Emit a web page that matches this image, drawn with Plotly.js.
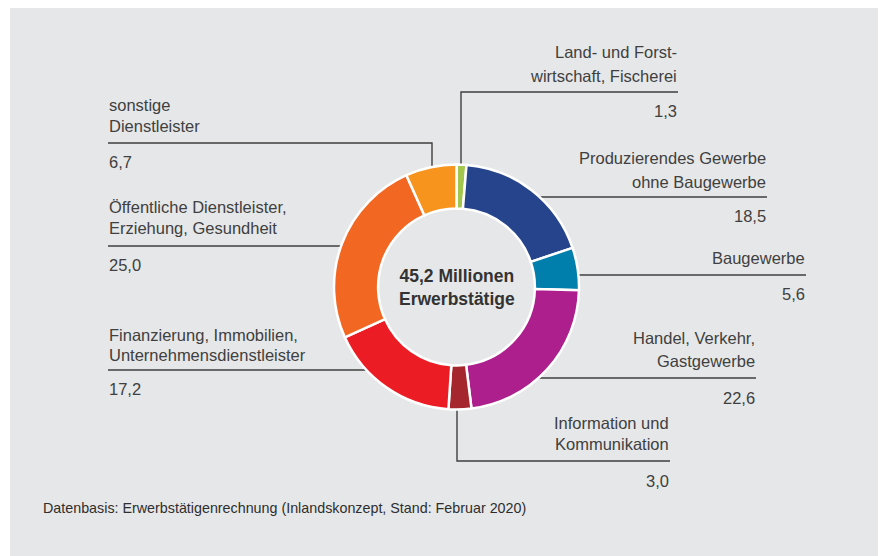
<!DOCTYPE html>
<html>
<head>
<meta charset="utf-8">
<script src="https://cdn.plot.ly/plotly-3.0.1.min.js"></script>
<style>
  html, body { margin: 0; padding: 0; background: #ffffff; }
  #chart { width: 883px; height: 556px; }
</style>
</head>
<body>
<div id="chart"></div>
<script>
// ---- data ----
const categories = [
  "Land- und Forst-<br>wirtschaft, Fischerei",
  "Produzierendes Gewerbe<br>ohne Baugewerbe",
  "Baugewerbe",
  "Handel, Verkehr,<br>Gastgewerbe",
  "Information und<br>Kommunikation",
  "Finanzierung, Immobilien,<br>Unternehmensdienstleister",
  "Öffentliche Dienstleister,<br>Erziehung, Gesundheit",
  "sonstige<br>Dienstleister"
];
const values = [1.3, 18.5, 5.6, 22.6, 3.0, 17.2, 25.0, 6.7];
const colors = ["#a3c74e", "#26448c", "#007fad", "#ad1f8d", "#a5262d", "#ec1c24", "#f26722", "#f7941d"];
const centerText = "45,2 Millionen<br>Erwerbstätige";
const footnote = "Datenbasis: Erwerbstätigenrechnung (Inlandskonzept, Stand: Februar 2020)";

// ---- layout helpers (pixel -> paper) ----
const W = 883, H = 556;
const px = x => x / W;
const py = y => 1 - y / H;

// label placement: anchor x, alignment, y of each text line, y of the value, leader path
const labelPos = [
  { x: 678, side: "right", ys: [52, 76],  vy: 111, path: [[461,178],[461,92],[678,92]] },
  { x: 767, side: "right", ys: [158, 182], vy: 216, path: [[532,197],[767,197]] },
  { x: 806, side: "right", ys: [258],     vy: 294, path: [[572,275],[806,275]] },
  { x: 756, side: "right", ys: [338, 361], vy: 398, path: [[532,378],[756,378]] },
  { x: 670, side: "right", ys: [423, 444], vy: 481, path: [[457,400],[457,461],[670,461]] },
  { x: 108, side: "left",  ys: [335, 355], vy: 389, path: [[108,370],[372,370]] },
  { x: 108, side: "left",  ys: [207, 228], vy: 265, path: [[108,246],[346,246]] },
  { x: 108, side: "left",  ys: [105, 126], vy: 162, path: [[108,143],[432,143],[432,176]] }
];

const textColor = "#404040";
const labelFont = { family: "Liberation Sans, Arial, sans-serif", size: 16.5, color: textColor };

const annotations = [];
const shapes = [
  { type: "rect", xref: "paper", yref: "paper", x0: px(10), x1: px(878), y0: py(8), y1: py(556),
    fillcolor: "#e6e7e8", line: { width: 0 }, layer: "below" }
];

categories.forEach((cat, i) => {
  const p = labelPos[i];
  const lines = cat.split("<br>");
  lines.forEach((ln, k) => {
    annotations.push({
      xref: "paper", yref: "paper", x: px(p.x), y: py(p.ys[k]),
      xanchor: p.side, yanchor: "middle", align: p.side,
      text: ln, showarrow: false, font: labelFont, borderpad: 0
    });
  });
  annotations.push({
    xref: "paper", yref: "paper", x: px(p.x), y: py(p.vy),
    xanchor: p.side, yanchor: "middle", align: p.side,
    text: values[i].toFixed(1).replace(".", ","), showarrow: false, font: labelFont, borderpad: 0
  });
  const d = p.path.map((pt, j) => (j === 0 ? "M" : "L") + px(pt[0]) + "," + py(pt[1])).join(" ");
  shapes.push({ type: "path", xref: "paper", yref: "paper", path: d,
    line: { color: "#3f3f3f", width: 1.4 }, layer: "below" });
});

// center text
annotations.push({
  xref: "paper", yref: "paper", x: px(456.5), y: py(287),
  xanchor: "center", yanchor: "middle", align: "center",
  text: "<b>" + centerText + "</b>", showarrow: false,
  font: { family: "Liberation Sans, Arial, sans-serif", size: 17.5, color: "#333333" }
});

// footnote
annotations.push({
  xref: "paper", yref: "paper", x: px(42), y: py(508),
  xanchor: "left", yanchor: "middle", align: "left",
  text: footnote, showarrow: false, borderpad: 0,
  font: { family: "Liberation Sans, Arial, sans-serif", size: 14.3, color: "#2e2e2e" }
});

const trace = {
  type: "pie",
  labels: categories,
  values: values,
  sort: false,
  direction: "clockwise",
  rotation: 0,
  hole: 0.64,
  textinfo: "none",
  hoverinfo: "label+value",
  marker: { colors: colors, line: { color: "#ffffff", width: 2.5 } },
  domain: { x: [px(334), px(579)], y: [py(409.5), py(164.5)] },
  showlegend: false
};

const layout = {
  width: W, height: H,
  margin: { l: 0, r: 0, t: 0, b: 0 },
  paper_bgcolor: "#ffffff",
  plot_bgcolor: "rgba(0,0,0,0)",
  showlegend: false,
  annotations: annotations,
  shapes: shapes
};

Plotly.newPlot("chart", [trace], layout, { displayModeBar: false, staticPlot: true });
</script>
</body>
</html>
